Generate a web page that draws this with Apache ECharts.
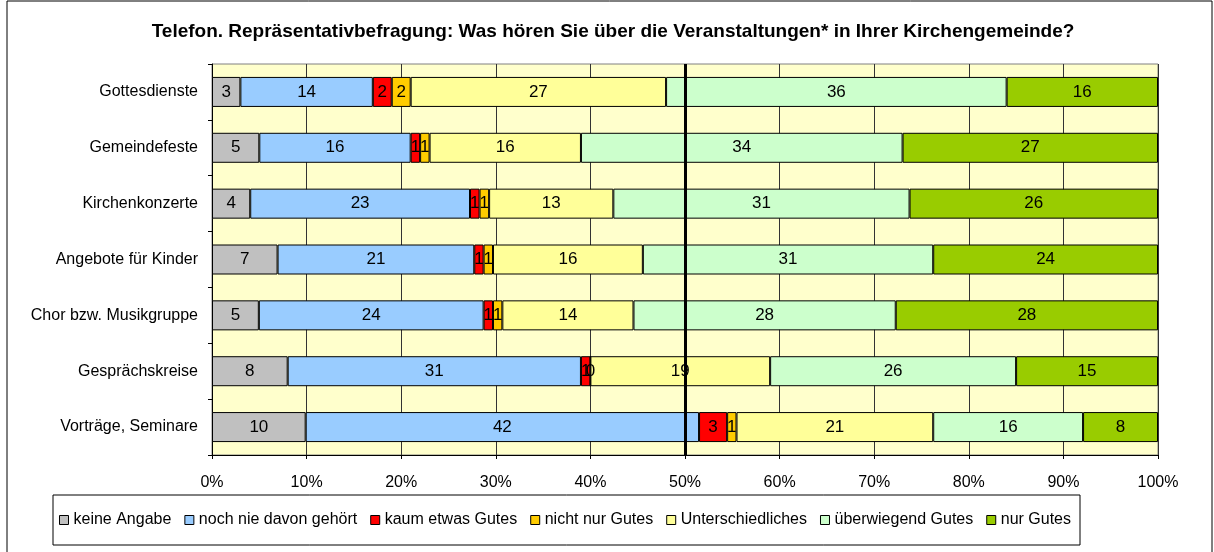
<!DOCTYPE html>
<html>
<head>
<title>Veranstaltungen</title>
<meta charset="utf-8">
<script type="text/javascript" src="https://cdn.jsdelivr.net/npm/echarts@6/dist/echarts.min.js"></script>
</head>
<body style="margin:0">
	<div id="main" style="width: 1214px; height: 552px;"></div>
</body>
<script>
	var categories = ['Gottesdienste', 'Gemeindefeste', 'Kirchenkonzerte', 'Angebote für Kinder',
		'Chor bzw. Musikgruppe', 'Gesprächskreise', 'Vorträge, Seminare'];
	var seriesNames = ['keine Angabe', 'noch nie davon gehört', 'kaum etwas Gutes', 'nicht nur Gutes',
		'Unterschiedliches', 'überwiegend Gutes', 'nur Gutes'];
	var keineAngabe = [3, 5, 4, 7, 5, 8, 10];
	var nochNie = [14, 16, 23, 21, 24, 31, 42];
	var kaumEtwas = [2, 1, 1, 1, 1, 1, 3];
	var nichtNur = [2, 1, 1, 1, 1, 0, 1];
	var unterschiedlich = [27, 16, 13, 16, 14, 19, 21];
	var ueberwiegend = [36, 34, 31, 31, 28, 26, 16];
	var nurGutes = [16, 27, 26, 24, 28, 15, 8];
	var xTicks = [0, 10, 20, 30, 40, 50, 60, 70, 80, 90, 100];

	var colorList = ['#C0C0C0', '#99CCFF', '#FF0000', '#FFCC00', '#FFFF99', '#CCFFCC', '#99CC00'];
	var raw = [keineAngabe, nochNie, kaumEtwas, nichtNur, unterschiedlich, ueberwiegend, nurGutes];
	var font = '"Liberation Sans", Arial, sans-serif';

	// Zeilensummen -> 100%
	var sums = categories.map(function(c, i) {
		var s = 0;
		raw.forEach(function(r) { s += r[i]; });
		return s;
	});

	var seriesList = raw.map(function(arr, k) {
		var s = {
			type: 'bar',
			name: seriesNames[k],
			stack: 'total',
			barWidth: 30,
			data: arr.map(function(v, i) { return v / sums[i] * 100; }),
			itemStyle: { color: colorList[k], borderColor: '#000', borderWidth: 1 },
			label: {
				show: true,
				position: 'inside',
				color: '#000',
				fontFamily: font,
				fontSize: 17,
				formatter: function(p) { return raw[k][p.dataIndex]; }
			}
		};
		if (k === 0) {
			s.markLine = {
				silent: true,
				symbol: 'none',
				label: { show: false },
				lineStyle: { color: '#000', width: 3, type: 'solid' },
				data: [{ xAxis: 50 }],
				z: 10
			};
		}
		return s;
	});

	var chart = echarts.init(document.getElementById('main'));
	var option = {
		animation: false,
		backgroundColor: '#fff',
		color: colorList,
		textStyle: { fontFamily: font },
		graphic: [
			{ type: 'rect', shape: { x: 7, y: 1, width: 1205, height: 600 },
				style: { fill: null, stroke: '#000', lineWidth: 1 }, silent: true },
			{ type: 'text', x: 613, y: 32,
				style: { text: 'Telefon. Repräsentativbefragung: Was hören Sie über die Veranstaltungen* in Ihrer Kirchengemeinde?',
					font: 'bold 19px "Liberation Sans", Arial, sans-serif', fill: '#000',
					textAlign: 'center', textVerticalAlign: 'middle' } }
		],
		grid: {
			left: 212, right: 56, top: 64, height: 391,
			show: true, backgroundColor: '#FFFFCC', borderColor: '#808080', borderWidth: 1
		},
		legend: {
			left: 53, top: 495,
			padding: [17, 9, 17, 6],
			itemGap: 13,
			itemWidth: 9, itemHeight: 9,
			icon: 'rect',
			borderColor: '#000', borderWidth: 1,
			itemStyle: { borderColor: '#000', borderWidth: 1 },
			textStyle: { fontSize: 16, color: '#000', fontFamily: font },
			data: seriesNames
		},
		xAxis: {
			type: 'value',
			min: xTicks[0], max: xTicks[xTicks.length - 1], interval: 10,
			axisLine: { show: true, lineStyle: { color: '#000' } },
			axisTick: { show: true, length: 4, lineStyle: { color: '#000' } },
			axisLabel: { formatter: '{value}%', fontSize: 16, color: '#000', margin: 20, fontFamily: font },
			splitLine: { show: true, lineStyle: { color: '#333', width: 1 } }
		},
		yAxis: {
			type: 'category',
			inverse: true,
			data: categories,
			axisLine: { show: true, lineStyle: { color: '#000' } },
			axisTick: { show: true, length: 4, lineStyle: { color: '#000' } },
			axisLabel: { fontSize: 16, color: '#000', margin: 14, fontFamily: font }
		},
		series: seriesList
	};
	chart.setOption(option);
</script>
</html>
